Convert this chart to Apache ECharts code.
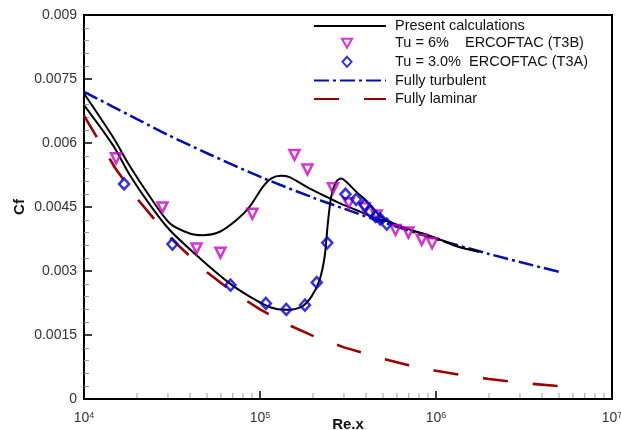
<!DOCTYPE html>
<html>
<head>
<meta charset="utf-8">
<script src="https://cdn.jsdelivr.net/npm/echarts@6/dist/echarts.min.js"></script>
<style>html,body{margin:0;padding:0;background:#fff;}#c{width:621px;height:430px;}</style>
</head>
<body>
<div id="c"></div>
<script>
// ---- data ----
const xTickExponents = [4, 5, 6, 7];
const yTickLabels = ['0', '0.0015', '0.003', '0.0045', '0.006', '0.0075', '0.009'];
const xMinorTicks = [2e4,3e4,4e4,5e4,6e4,7e4,8e4,9e4,2e5,3e5,4e5,5e5,6e5,7e5,8e5,9e5,2e6,3e6,4e6,5e6,6e6,7e6,8e6,9e6];

const calcT3B = [[1.0e4,0.00716],[1.46e4,0.00614],[1.82e4,0.00546],[2.37e4,0.00474],[3.07e4,0.00412],[3.99e4,0.00388],[4.73e4,0.00384],[5.91e4,0.00392],[7.38e4,0.0042],[8.74e4,0.00451],[1.04e5,0.00498],[1.16e5,0.00517],[1.31e5,0.00523],[1.47e5,0.0052],[1.83e5,0.00498],[2.38e5,0.00474],[2.83e5,0.00459],[3.52e5,0.00443],[4.38e5,0.00426],[5.44e5,0.00415],[6.77e5,0.004],[1.0e6,0.00377],[1.36e6,0.00356],[1.76e6,0.00345]];
const calcT3A = [[1.0e4,0.00689],[1.46e4,0.00595],[1.82e4,0.00525],[2.37e4,0.00455],[3.07e4,0.00396],[4.55e4,0.0033],[6.73e4,0.00271],[8.74e4,0.0024],[1.14e5,0.00215],[1.41e5,0.00209],[1.72e5,0.00216],[1.96e5,0.0024],[2.18e5,0.00279],[2.33e5,0.00334],[2.43e5,0.00412],[2.54e5,0.00474],[2.71e5,0.00509],[2.9e5,0.00517],[3.09e5,0.00509],[3.52e5,0.00486],[4.19e5,0.00457],[4.77e5,0.00431],[5.44e5,0.00415],[6.77e5,0.004],[1.0e6,0.00377],[1.36e6,0.00356],[1.76e6,0.00345]];
const expT3B = [[1.52e4,0.00564],[2.79e4,0.00449],[4.36e4,0.00353],[5.96e4,0.00343],[9.05e4,0.00434],[1.57e5,0.00572],[1.86e5,0.00538],[2.6e5,0.00494],[3.19e5,0.00459],[3.93e5,0.00447],[4.6e5,0.0043],[5.89e5,0.00396],[6.97e5,0.0039],[8.3e5,0.00373],[9.5e5,0.00365]];
const expT3A = [[1.69e4,0.00504],[3.18e4,0.00363],[6.8e4,0.00267],[1.08e5,0.00224],[1.41e5,0.0021],[1.8e5,0.0022],[2.1e5,0.00273],[2.41e5,0.00366],[3.06e5,0.0048],[3.52e5,0.00468],[3.93e5,0.00455],[4.23e5,0.00439],[4.53e5,0.00428],[4.82e5,0.00422],[5.25e5,0.0041]];
const fullyTurbulent = [[1e4,0.0072],[2e4,0.00656],[3e4,0.00619],[5e4,0.00576],[1e5,0.00521],[2e5,0.00472],[3e5,0.00446],[5e5,0.00414],[1e6,0.00375],[2e6,0.0034],[3e6,0.00321],[5e6,0.00298]];
const fullyLaminar = [[1e4,0.00664],[1.5e4,0.00542],[2e4,0.0047],[3e4,0.00383],[5e4,0.00297],[7e4,0.00251],[1e5,0.0021],[1.5e5,0.00171],[2e5,0.00148],[3e5,0.00121],[5e5,0.00094],[7e5,0.00079],[1e6,0.00066],[1.5e6,0.00054],[2e6,0.00047],[3e6,0.00038],[5e6,0.0003]];

const NAME_CALC = 'Present calculations';
const NAME_T3B = 'Tu = 6%    ERCOFTAC (T3B)';
const NAME_T3A = 'Tu = 3.0%  ERCOFTAC (T3A)';
const NAME_TURB = 'Fully turbulent';
const NAME_LAM = 'Fully laminar';

const FONT = 'Liberation Sans, Arial, sans-serif';
const legendText = {fontFamily: FONT, fontSize: 14.5, color: '#111', lineHeight: 18};
const noDot = {color: 'rgba(0,0,0,0)', borderWidth: 0};

const chart = echarts.init(document.getElementById('c'), null, {renderer: 'canvas'});
chart.setOption({
  animation: false,
  backgroundColor: '#fff',
  grid: {left: 84, right: 9, top: 15, bottom: 31, show: true, borderColor: '#000', borderWidth: 2,
    outerBoundsMode: 'none', containLabel: false},
  legend: [
    {left: 313, top: 17, orient: 'vertical', padding: 0, itemWidth: 72, itemHeight: 10, selectedMode: false,
      textStyle: Object.assign({padding: [0, 0, 0, 4]}, legendText),
      data: [{name: NAME_CALC, itemStyle: noDot}]},
    {left: 341, top: 35.7, orient: 'vertical', padding: 0, itemGap: 3.6, itemWidth: 10, itemHeight: 10, selectedMode: false,
      textStyle: Object.assign({}, legendText, {padding: [0, 0, 0, 38], lineHeight: 10}),
      data: [
        {name: NAME_T3B, icon: 'path://M0,0 L10,0 L5,9 Z'},
        {name: NAME_T3A, icon: 'path://M5,0 L10,5.5 L5,11 L0,5.5 Z'}
      ]},
    {left: 313, top: 71.6, orient: 'vertical', padding: 0, itemGap: 0.3, itemWidth: 72, itemHeight: 10, selectedMode: false,
      textStyle: Object.assign({padding: [0, 0, 0, 4]}, legendText),
      data: [{name: NAME_TURB, itemStyle: noDot}, {name: NAME_LAM, itemStyle: noDot}]}
  ],
  xAxis: {
    type: 'log', logBase: 10, min: 1e4, max: 1e7,
    name: 'Re.x', nameLocation: 'middle', nameGap: 18, nameMoveOverlap: false,
    nameTextStyle: {fontFamily: FONT, fontSize: 15, fontWeight: 'bold', color: '#111'},
    axisLine: {show: true, lineStyle: {color: '#000', width: 2}},
    axisTick: {show: true, inside: true, length: 8, lineStyle: {color: '#000', width: 1.5}},
    splitLine: {show: false},
    axisLabel: {
      margin: 12, hideOverlap: false, showMaxLabel: true, showMinLabel: true,
      formatter: function (v) {
        const e = xTickExponents.find(k => Math.abs(Math.pow(10, k) - v) < 1);
        return '{b|10}{s|' + e + '}';
      },
      rich: {
        b: {fontFamily: FONT, fontSize: 14, color: '#333'},
        s: {fontFamily: FONT, fontSize: 9, color: '#333', verticalAlign: 'top'}
      }
    }
  },
  yAxis: {
    type: 'value', min: 0, max: 0.009, interval: 0.0015,
    name: 'Cf', nameLocation: 'middle', nameGap: 57, nameRotate: 90, nameMoveOverlap: false,
    nameTextStyle: {fontFamily: FONT, fontSize: 15, fontWeight: 'bold', color: '#111'},
    axisLine: {show: true, lineStyle: {color: '#000', width: 2}},
    axisTick: {show: true, inside: true, length: 8, lineStyle: {color: '#000', width: 1.5}},
    minorTick: {show: true, splitNumber: 5, length: 5, lineStyle: {color: '#999', width: 1}},
    splitLine: {show: false},
    axisLabel: {
      margin: 7, fontFamily: FONT, fontSize: 14, color: '#333',
      formatter: function (v) { return yTickLabels[Math.round(v / 0.0015)]; }
    }
  },
  series: [
    {name: NAME_LAM, type: 'line', data: fullyLaminar, symbol: 'none', z: 2,
      lineStyle: {color: '#9b0000', width: 2.6, type: [25, 25]}, itemStyle: {color: '#9b0000'}},
    {name: NAME_TURB, type: 'line', data: fullyTurbulent, symbol: 'none', smooth: 0.3, z: 2,
      lineStyle: {color: '#0010b0', width: 2.5, type: [15, 4, 3, 4]}, itemStyle: {color: '#0010b0'}},
    {name: NAME_CALC, type: 'line', data: calcT3B, symbol: 'none', smooth: 0.3, z: 3,
      lineStyle: {color: '#000', width: 2}, itemStyle: {color: '#000'}},
    {name: NAME_CALC, type: 'line', data: calcT3A, symbol: 'none', smooth: 0.3, z: 3,
      lineStyle: {color: '#000', width: 2}, itemStyle: {color: '#000'}},
    {name: NAME_T3B, type: 'scatter', data: expT3B, symbol: 'triangle', symbolRotate: 180, symbolSize: 10, z: 4,
      itemStyle: {color: 'rgba(255,255,255,0)', borderColor: '#cc00cc', borderWidth: 2.5}},
    {name: NAME_T3A, type: 'scatter', data: expT3A, symbol: 'diamond', symbolSize: [10, 11], z: 5,
      itemStyle: {color: 'rgba(255,255,255,0)', borderColor: '#0000d8', borderWidth: 2.5}},
    {type: 'custom', silent: true, clip: false, z: 6,
      data: xMinorTicks.map(v => [v, 0]),
      encode: {x: 0, y: 1},
      renderItem: function (params, api) {
        const p = api.coord([api.value(0), 0]);
        return {type: 'line', shape: {x1: p[0], y1: p[1] - 1, x2: p[0], y2: p[1] - 6},
          style: {stroke: '#999', lineWidth: 1}};
      }}
  ]
});
</script>
</body>
</html>
